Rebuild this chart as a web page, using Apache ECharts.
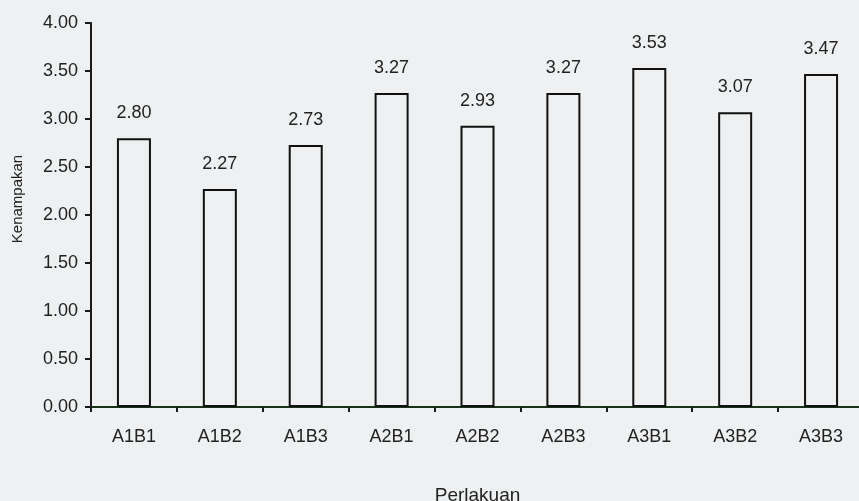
<!DOCTYPE html>
<html>
<head>
<meta charset="utf-8">
<script src="https://cdn.jsdelivr.net/npm/echarts@6/dist/echarts.min.js"></script>
<style>
html, body { margin: 0; padding: 0; background: #eef0f1; }
#chart { width: 859px; height: 501px; }
</style>
</head>
<body>
<div id="chart"></div>
<script>
var categories = ["A1B1", "A1B2", "A1B3", "A2B1", "A2B2", "A2B3", "A3B1", "A3B2", "A3B3"];
var values = [2.80, 2.27, 2.73, 3.27, 2.93, 3.27, 3.53, 3.07, 3.47];
var yTicks = [0, 0.5, 1, 1.5, 2, 2.5, 3, 3.5, 4];

var myChart = echarts.init(document.getElementById("chart"), null, { renderer: "canvas" });
var font = "Liberation Sans";
myChart.setOption({
    backgroundColor: "#eef0f1",
    animation: false,
    grid: {
        left: 91,
        right: -5,
        top: 23,
        bottom: 94,
        containLabel: false,
        outerBoundsMode: "none"
    },
    // y-axis title sits above centre in the original, so place it by hand
    graphic: [{
        type: "text",
        x: 18,
        y: 199,
        rotation: Math.PI / 2,
        style: {
            text: "Kenampakan",
            fill: "#222",
            fontSize: 15,
            fontFamily: font,
            align: "center",
            verticalAlign: "middle"
        }
    }],
    xAxis: {
        type: "category",
        data: categories,
        name: "Perlakuan",
        nameLocation: "middle",
        nameGap: 79,
        nameTextStyle: { color: "#222", fontSize: 19, fontFamily: font },
        axisLine: { lineStyle: { color: "#173317", width: 2 } },
        axisTick: { show: true, length: 5, lineStyle: { color: "#1a1a1a", width: 2 } },
        axisLabel: { margin: 21, color: "#222", fontSize: 18, fontFamily: font }
    },
    yAxis: {
        type: "value",
        min: yTicks[0],
        max: yTicks[yTicks.length - 1],
        interval: 0.5,
        axisLine: { show: true, lineStyle: { color: "#1a1a1a", width: 2 } },
        axisTick: { show: true, length: 6, lineStyle: { color: "#1a1a1a", width: 2 } },
        splitLine: { show: false },
        axisLabel: {
            margin: 13,
            color: "#222",
            fontSize: 18,
            fontFamily: font,
            formatter: function (v) { return v.toFixed(2); }
        }
    },
    series: [{
        type: "bar",
        data: values,
        barWidth: 34,
        itemStyle: {
            color: "#eef0f1",
            borderColor: "#111",
            borderWidth: 2
        },
        label: {
            show: true,
            position: "top",
            distance: 16,
            color: "#222",
            fontSize: 18,
            fontFamily: font,
            formatter: function (p) { return p.value.toFixed(2); }
        }
    }]
});
</script>
</body>
</html>
